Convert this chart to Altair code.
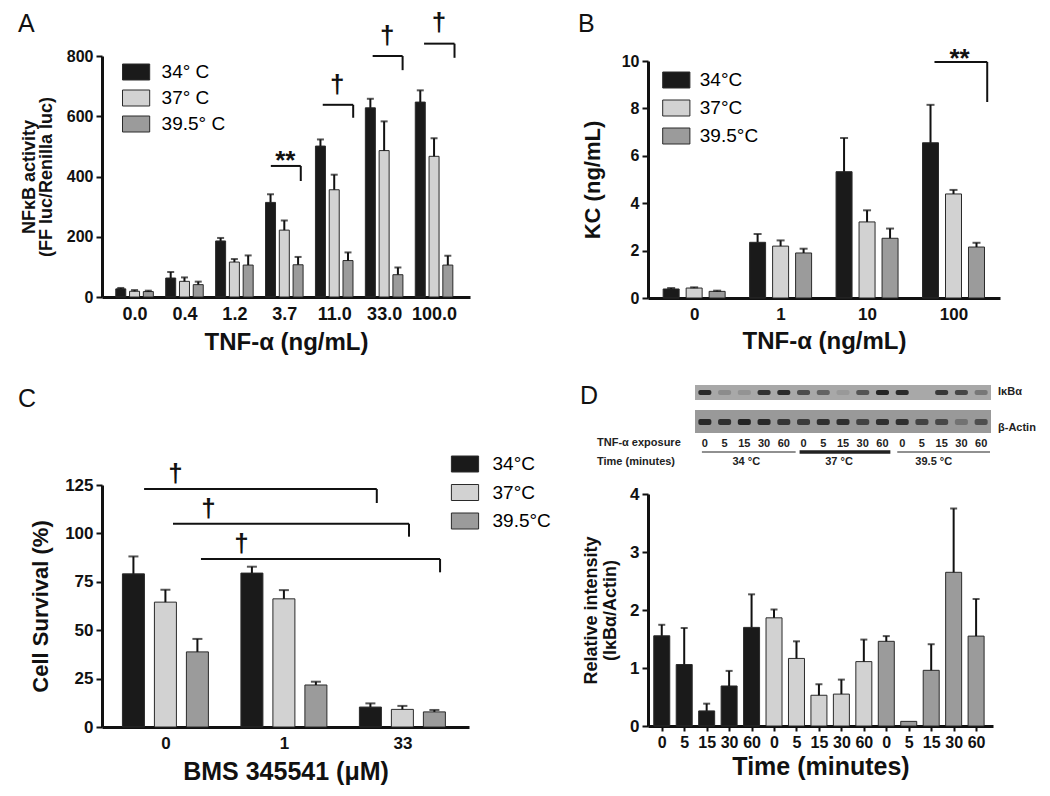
import json
import altair as alt
import pandas as pd

FONT = "Liberation Sans"
BLACK = "#1a1a1a"
LIGHT = "#d2d2d2"
GRAY = "#9b9b9b"
STROKE = "#2a2a2a"

# ---------------- Panel A data ----------------
a_groups = ["0.0", "0.4", "1.2", "3.7", "11.0", "33.0", "100.0"]
a_series = ["34° C", "37° C", "39.5° C"]
a_34 = [27, 63, 186, 314, 501, 628, 647]
a_34_err = [3, 20, 10, 27, 22, 30, 39]
a_37 = [19, 52, 116, 222, 356, 486, 467]
a_37_err = [4, 13, 10, 32, 50, 97, 60]
a_395 = [18, 41, 106, 107, 121, 74, 106]
a_395_err = [3, 10, 32, 26, 27, 24, 31]
a_sig_text = ["**", "†", "†", "†"]
a_sig_x0 = [2.73, 3.77, 4.77, 5.80]
a_sig_x1 = [3.33, 4.38, 5.37, 6.41]
a_sig_top = [435, 638, 800, 841]
a_sig_bottom = [385, 595, 753, 794]
a_sig_lx = [3.02, 4.06, 5.06, 6.10]
a_sig_ly = [452, 704, 868, 909]

# ---------------- Panel B data ----------------
b_groups = ["0", "1", "10", "100"]
b_series = ["34°C", "37°C", "39.5°C"]
b_34 = [0.38, 2.35, 5.33, 6.55]
b_34_err = [0.04, 0.35, 1.42, 1.60]
b_37 = [0.42, 2.19, 3.21, 4.39]
b_37_err = [0.03, 0.24, 0.49, 0.17]
b_395 = [0.28, 1.90, 2.52, 2.15]
b_395_err = [0.03, 0.18, 0.41, 0.18]
b_sig_text = ["**"]
b_sig_x0 = [2.78]
b_sig_x1 = [3.39]
b_sig_top = [9.96]
b_sig_bottom = [8.27]
b_sig_lx = [3.07]
b_sig_ly = [10.1]

# ---------------- Panel C data ----------------
c_groups = ["0", "1", "33"]
c_series = ["34°C", "37°C", "39.5°C"]
c_34 = [79.1, 79.5, 10.3]
c_34_err = [9.0, 3.3, 1.9]
c_37 = [64.5, 66.2, 9.1]
c_37_err = [6.4, 4.5, 1.8]
c_395 = [38.8, 21.7, 7.8]
c_395_err = [6.7, 1.7, 1.0]
c_sig_text = ["†", "†", "†"]
c_sig_x0 = [-0.18, 0.064, 0.30]
c_sig_x1 = [1.784, 2.056, 2.318]
c_sig_top = [122.9, 105.0, 86.8]
c_sig_bottom = [115.7, 98.3, 79.9]
c_sig_lx = [0.086, 0.364, 0.643]
c_sig_ly = [130.7, 112.8, 94.3]

# ---------------- Panel D data ----------------
d_labels = ["0", "5", "15", "30", "60"] * 3
d_temps = ["34 °C", "37 °C", "39.5 °C"]
d_34 = [1.555, 1.06, 0.26, 0.69, 1.70]
d_34_err = [0.19, 0.63, 0.125, 0.26, 0.57]
d_37 = [1.865, 1.165, 0.53, 0.55, 1.11]
d_37_err = [0.145, 0.295, 0.19, 0.25, 0.38]
d_395 = [1.46, 0.08, 0.96, 2.65, 1.55]
d_395_err = [0.09, 0.0, 0.45, 1.10, 0.64]
# western blot band strength per lane (0 = none, 1 = darkest)
blot_ikba = [0.9, 0.2, 0.15, 0.85, 0.9, 0.65, 0.5, 0.1, 0.6, 0.95, 0.9, 0.0, 0.8, 0.7, 0.35]
blot_actin = [0.9, 0.85, 0.95, 0.9, 0.8, 0.75, 0.85, 0.85, 0.7, 0.85, 0.85, 0.7, 0.65, 0.3, 0.6]


def grouped_df(groups, series, values, errs, offset):
    rows = []
    for si, (name, vals, es) in enumerate(zip(series, values, errs)):
        for gi, (v, e) in enumerate(zip(vals, es)):
            rows.append(dict(series=name, group=groups[gi], pos=gi + (si - 1) * offset,
                             value=v, err=e, top=v + e))
    return pd.DataFrame(rows)


def label_expr(labels):
    return json.dumps(labels) + "[round(datum.value)]"


LEGEND_PATH = "M-1.7,-1H1.7V1H-1.7Z"


def bar_panel(df, series, letter, letter_xy, width, height, xdom, ydom, yrange, yticks,
              xlabels, ytitle, xtitle, bar_px, cap_px, sig, legend_xy, legend_cfg,
              x_label_size=16, y_label_size=14, x_title_size=21, y_title_size=21,
              x_label_pad=9, x_title_pad=8, y_title_pad=10, y_title_lh=None,
              x_ticks=False, show_legend=True):
    xscale = alt.Scale(domain=xdom, nice=False, zero=False)
    yscale_kw = dict(domain=ydom, nice=False, zero=True)
    if yrange is not None:
        yscale_kw["range"] = yrange
    yscale = alt.Scale(**yscale_kw)
    xaxis = alt.Axis(values=list(range(len(xlabels))), labelExpr=label_expr(xlabels),
                     ticks=x_ticks, tickSize=5 if x_ticks else 0, labelFontSize=x_label_size,
                     labelPadding=x_label_pad, titleFontSize=x_title_size,
                     titlePadding=x_title_pad, labelFlush=False)
    yaxis = alt.Axis(values=yticks, labelFontSize=y_label_size, titleFontSize=y_title_size,
                     titlePadding=y_title_pad, tickSize=6, labelPadding=3,
                     titleLineHeight=y_title_lh or (y_title_size + 1))

    def X(field):
        return alt.X(field, scale=xscale, axis=xaxis, title=xtitle)

    def Y(field):
        return alt.Y(field, scale=yscale, axis=yaxis, title=ytitle)

    if show_legend:
        legend = alt.Legend(orient="none", legendX=legend_xy[0], legendY=legend_xy[1],
                            title=None, symbolType=LEGEND_PATH, symbolSize=256,
                            symbolStrokeColor=STROKE, symbolStrokeWidth=1,
                            symbolOpacity=1, labelFont=FONT, labelColor="black",
                            padding=0, **legend_cfg)
    else:
        legend = None
    color = alt.Color("series:N", scale=alt.Scale(domain=series, range=[BLACK, LIGHT, GRAY]),
                      legend=legend)

    base = alt.Chart(df)
    bars = base.mark_bar(size=bar_px, stroke=STROKE, strokeWidth=1, opacity=1).encode(
        x=X("pos:Q"), y=Y("value:Q"), color=color)
    errs = base.transform_filter("datum.err > 0").mark_rule(color="#111", strokeWidth=2).encode(
        x=X("pos:Q"), y=Y("value:Q"), y2="top:Q")
    caps = base.transform_filter("datum.err > 0").mark_tick(
        orient="horizontal", size=cap_px, thickness=2, color="#111").encode(
        x=X("pos:Q"), y=Y("top:Q"))
    layers = [bars, errs, caps]

    if sig is not None:
        sdf = pd.DataFrame(dict(sym=sig[0], x0=sig[1], x1=sig[2], ytop=sig[3], ybot=sig[4],
                                lx=sig[5], ly=sig[6]))
        sb = alt.Chart(sdf)
        hrule = sb.mark_rule(color="#111", strokeWidth=2).encode(
            x=X("x0:Q"), x2="x1:Q", y=Y("ytop:Q"))
        vrule = sb.mark_rule(color="#111", strokeWidth=2).encode(
            x=X("x1:Q"), y=Y("ytop:Q"), y2="ybot:Q")
        txt = sb.mark_text(font=FONT, fontSize=26, fontWeight="bold", color="#111",
                           baseline="middle").encode(x=X("lx:Q"), y=Y("ly:Q"), text="sym:N")
        layers += [hrule, vrule, txt]

    letter_layer = alt.Chart(pd.DataFrame({"t": [letter]})).mark_text(
        font=FONT, fontSize=25, align="left", baseline="alphabetic", color="#111").encode(
        x=alt.value(letter_xy[0]), y=alt.value(letter_xy[1]), text="t:N")
    layers.append(letter_layer)
    return alt.layer(*layers).properties(width=width, height=height)


# ---------------- Panel A ----------------
dfA = grouped_df(a_groups, a_series, [a_34, a_37, a_395], [a_34_err, a_37_err, a_395_err], 0.276)
chartA = bar_panel(
    dfA, a_series, "A", (-84, -24), 368, 241, [-0.552, 6.62], [0, 800], None,
    [0, 200, 400, 600, 800], a_groups, ["NFκB activity", "(FF luc/Renilla luc)"],
    "TNF-α (ng/mL)", 10, 7,
    (a_sig_text, a_sig_x0, a_sig_x1, a_sig_top, a_sig_bottom, a_sig_lx, a_sig_ly),
    (24.6, 6.5), dict(labelFontSize=19, labelOffset=16, rowPadding=5),
    x_label_size=18, y_label_size=16, x_title_size=24, y_title_size=18, y_title_lh=17,
    x_label_pad=8, x_title_pad=7, y_title_pad=11)

# ---------------- Panel B ----------------
dfB = grouped_df(b_groups, b_series, [b_34, b_37, b_395], [b_34_err, b_37_err, b_395_err], 0.266)
chartB = bar_panel(
    dfB, b_series, "B", (-70, -24), 352, 242, [-0.476, 3.48], [0, 10], [242, 5],
    [0, 2, 4, 6, 8, 10], b_groups, "KC (ng/mL)", "TNF-α (ng/mL)", 16, 8,
    (b_sig_text, b_sig_x0, b_sig_x1, b_sig_top, b_sig_bottom, b_sig_lx, b_sig_ly),
    (18.8, 14.5), dict(labelFontSize=19, labelOffset=14, rowPadding=7),
    x_label_size=17, y_label_size=16, x_title_size=24, y_title_size=22, y_title_pad=17,
    x_label_pad=8, x_title_pad=7)

# ---------------- Panel C ----------------
dfC = grouped_df(c_groups, c_series, [c_34, c_37, c_395], [c_34_err, c_37_err, c_395_err], 0.27)
chartC = bar_panel(
    dfC, c_series, "C", (-84, -78), 367, 242, [-0.493, 2.52], [0, 125], None,
    [0, 25, 50, 75, 100, 125], c_groups, "Cell Survival (%)", "BMS 345541 (μM)", 22, 10,
    (c_sig_text, c_sig_x0, c_sig_x1, c_sig_top, c_sig_bottom, c_sig_lx, c_sig_ly),
    (353.5, -30.5), dict(labelFontSize=19, labelOffset=18, rowPadding=7.5),
    x_label_size=17, y_label_size=17, x_title_size=25, y_title_size=22, y_title_pad=12,
    x_label_pad=8, x_title_pad=8)

# ---------------- Panel D ----------------
d_rows = []
for ti, (t, vals, es) in enumerate(zip(d_temps, [d_34, d_37, d_395], [d_34_err, d_37_err, d_395_err])):
    for k, (v, e) in enumerate(zip(vals, es)):
        d_rows.append(dict(series=t, pos=ti * 5 + k, value=v, err=e, top=v + e))
dfD = pd.DataFrame(d_rows)
chartD_main = bar_panel(
    dfD, d_temps, "D", (-68, -81), 345, 241, [-0.39, 14.53], [0, 4], [241, 9],
    [0, 1, 2, 3, 4], d_labels, ["Relative intensity", "(IκBα/Actin)"], "Time (minutes)",
    16, 7, None, (0, 0), {}, x_label_size=16, y_label_size=17, x_title_size=25,
    y_title_size=18, y_title_lh=19, x_label_pad=3, x_title_pad=4, y_title_pad=10,
    x_ticks=True, show_legend=False)

# western blot sketch above panel D
lane_scale = alt.Scale(domain=[-0.5, 14.5], range=[47, 343], nice=False, zero=False)
strips = pd.DataFrame(dict(name=["IκBα", "β-Actin"], x0=[-0.5, -0.5], x1=[14.5, 14.5]))
lanes = list(range(15))
bands = pd.DataFrame(dict(lane=lanes, l0=[i - 0.33 for i in lanes], l1=[i + 0.33 for i in lanes],
                          ikba=blot_ikba, actin=blot_actin, lab=d_labels))
temp_df = pd.DataFrame(dict(t=d_temps, s=[-0.15, 4.8, 9.75], e=[4.6, 9.4, 14.45],
                            c=[2.1, 6.8, 11.6], w=[1.2, 3.5, 1.2]))

strip_ikba = alt.Chart(strips.iloc[[0]]).mark_rect(color="#a8a8a8").encode(
    x=alt.X("x0:Q", scale=lane_scale, axis=None), x2="x1:Q", y=alt.value(-100), y2=alt.value(-85))
strip_actin = alt.Chart(strips.iloc[[1]]).mark_rect(color="#999999").encode(
    x=alt.X("x0:Q", scale=lane_scale, axis=None), x2="x1:Q", y=alt.value(-75), y2=alt.value(-52))
band_ikba = alt.Chart(bands).mark_rect(color="#1c1c1c", cornerRadius=2).encode(
    x=alt.X("l0:Q", scale=lane_scale, axis=None), x2="l1:Q",
    y=alt.value(-95), y2=alt.value(-90), opacity=alt.Opacity("ikba:Q", scale=None, legend=None))
band_actin = alt.Chart(bands).mark_rect(color="#1c1c1c", cornerRadius=2).encode(
    x=alt.X("l0:Q", scale=lane_scale, axis=None), x2="l1:Q",
    y=alt.value(-66), y2=alt.value(-60), opacity=alt.Opacity("actin:Q", scale=None, legend=None))
lane_text = alt.Chart(bands).mark_text(font=FONT, fontSize=11, fontWeight="bold",
                                       color="#222", baseline="middle").encode(
    x=alt.X("lane:Q", scale=lane_scale, axis=None), y=alt.value(-41), text="lab:N")
under = alt.Chart(temp_df).mark_rule(color="#222").encode(
    x=alt.X("s:Q", scale=lane_scale, axis=None), x2="e:Q", y=alt.value(-33),
    strokeWidth=alt.StrokeWidth("w:Q", scale=None, legend=None))
temp_text = alt.Chart(temp_df).mark_text(font=FONT, fontSize=11, fontWeight="bold",
                                         color="#222", baseline="middle").encode(
    x=alt.X("c:Q", scale=lane_scale, axis=None), y=alt.value(-23), text="t:N")
row_labels = pd.DataFrame(dict(t=["TNF-α exposure", "Time (minutes)"], yy=[-42, -23]))
row_text = alt.Chart(row_labels).mark_text(font=FONT, fontSize=11, fontWeight="bold",
                                           color="#222", align="left", baseline="middle").encode(
    x=alt.value(-51), y=alt.Y("yy:Q", scale=None, axis=None), text="t:N")
side_labels = pd.DataFrame(dict(t=["IκBα", "β-Actin"], yy=[-93, -57]))
side_text = alt.Chart(side_labels).mark_text(font=FONT, fontSize=11, fontWeight="bold",
                                             color="#222", align="left", baseline="middle").encode(
    x=alt.value(350), y=alt.Y("yy:Q", scale=None, axis=None), text="t:N")

blot = alt.layer(strip_ikba, strip_actin, band_ikba, band_actin, lane_text, under, temp_text)
chartD = alt.layer(chartD_main, blot, row_text, side_text).resolve_scale(
    x="independent", y="independent").properties(width=345, height=241)

chart = alt.concat(
    chartA, chartB, chartC, chartD, columns=2, spacing={"row": 187, "column": 178},
    bounds="flush"
).resolve_scale(color="independent").resolve_legend(color="independent").properties(
    padding={"left": 10, "top": 2, "right": 5, "bottom": 5}
).configure_view(stroke=None).configure_axis(
    labelFont=FONT, titleFont=FONT, labelFontWeight="bold", titleFontWeight="bold",
    labelColor="#111", titleColor="#111", domainColor="#111", domainWidth=3,
    tickColor="#111", tickWidth=2, grid=False
).configure_text(font=FONT)

chart.save("out.html", embed_options={"renderer": "svg", "actions": False})
